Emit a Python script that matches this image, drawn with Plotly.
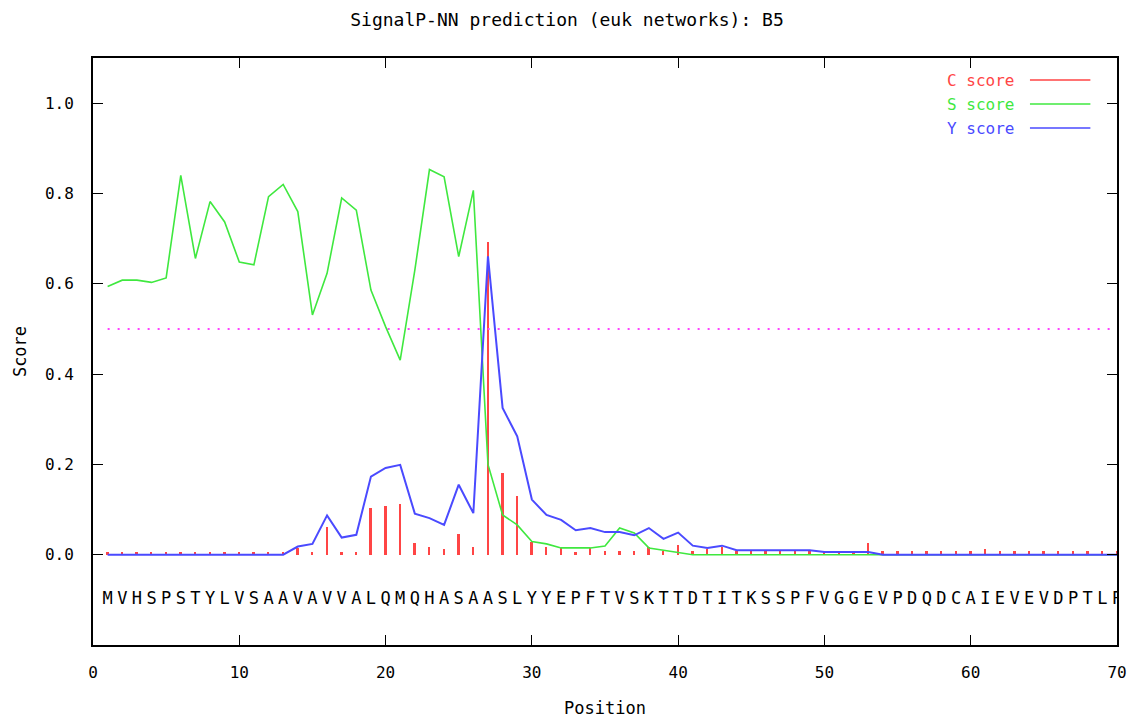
import plotly.graph_objects as go

# Query sequence, one residue per position
sequence = "MVHSPSTYLVSAAVAVVALQMQHASAASLYYEPFTVSKTTDTITKSSPFVGGEVPDQDCAIEVEVDPTLP"
residues = list(sequence)
positions = list(range(1, len(residues) + 1))

# Raw cleavage-site score (C), signal-peptide score (S), combined score (Y)
c_score = [
    0.007, 0.007, 0.007, 0.007, 0.007, 0.007, 0.007, 0.007, 0.007, 0.007,
    0.007, 0.007, 0.007, 0.015, 0.007, 0.062, 0.007, 0.007, 0.103, 0.108,
    0.113, 0.026, 0.017, 0.013, 0.046, 0.017, 0.693, 0.181, 0.129, 0.029,
    0.017, 0.015, 0.007, 0.015, 0.008, 0.008, 0.008, 0.016, 0.009, 0.021,
    0.008, 0.013, 0.018, 0.008, 0.008, 0.008, 0.008, 0.008, 0.008, 0.008,
    0.008, 0.008, 0.027, 0.008, 0.008, 0.008, 0.008, 0.008, 0.008, 0.008,
    0.013, 0.008, 0.008, 0.008, 0.008, 0.008, 0.008, 0.008, 0.008, 0.008,
]
s_score = [
    0.594, 0.608, 0.608, 0.603, 0.613, 0.840, 0.656, 0.782, 0.737, 0.648,
    0.642, 0.793, 0.820, 0.760, 0.531, 0.623, 0.790, 0.763, 0.586, 0.505,
    0.431, 0.630, 0.853, 0.837, 0.660, 0.807, 0.200, 0.088, 0.066, 0.029,
    0.024, 0.015, 0.015, 0.015, 0.019, 0.059, 0.048, 0.015, 0.010, 0.005,
    0.000, 0.000, 0.000, 0.000, 0.000, 0.000, 0.000, 0.000, 0.000, 0.000,
    0.000, 0.000, 0.000, 0.000, 0.000, 0.000, 0.000, 0.000, 0.000, 0.000,
    0.000, 0.000, 0.000, 0.000, 0.000, 0.000, 0.000, 0.000, 0.000, 0.000,
]
y_score = [
    0.000, 0.000, 0.000, 0.000, 0.000, 0.000, 0.000, 0.000, 0.000, 0.000,
    0.000, 0.000, 0.000, 0.018, 0.024, 0.087, 0.038, 0.044, 0.173, 0.192,
    0.199, 0.091, 0.081, 0.066, 0.155, 0.092, 0.661, 0.325, 0.262, 0.122,
    0.088, 0.077, 0.054, 0.059, 0.050, 0.050, 0.043, 0.059, 0.035, 0.049,
    0.020, 0.015, 0.020, 0.010, 0.010, 0.010, 0.010, 0.010, 0.010, 0.006,
    0.006, 0.006, 0.006, 0.000, 0.000, 0.000, 0.000, 0.000, 0.000, 0.000,
    0.000, 0.000, 0.000, 0.000, 0.000, 0.000, 0.000, 0.000, 0.000, 0.000,
]
cutoff = 0.5
sequence_row = -0.1

x_ticks = [0, 10, 20, 30, 40, 50, 60, 70]
y_ticks = [0.0, 0.2, 0.4, 0.6, 0.8, 1.0]
y_tick_labels = ["0.0", "0.2", "0.4", "0.6", "0.8", "1.0"]

series_names = ["C score", "S score", "Y score"]
series_colors = ["#ff4545", "#3fe83f", "#4a4aff"]

MONO = "DejaVu Sans Mono, Liberation Mono, monospace"

fig = go.Figure()

# C score as thin vertical bars
fig.add_trace(go.Bar(
    x=positions, y=c_score, width=0.13,
    marker=dict(color=series_colors[0], line=dict(width=0)),
    name=series_names[0], showlegend=False,
))

# Cutoff level
fig.add_trace(go.Scatter(
    x=[positions[0], positions[-1]], y=[cutoff, cutoff], mode="lines",
    line=dict(color="#ff40ff", width=2, dash="2px,8px"),
    showlegend=False, hoverinfo="skip",
))

fig.add_trace(go.Scatter(
    x=positions, y=s_score, mode="lines",
    line=dict(color=series_colors[1], width=1.6),
    name=series_names[1], showlegend=False,
))
fig.add_trace(go.Scatter(
    x=positions, y=y_score, mode="lines",
    line=dict(color=series_colors[2], width=2),
    name=series_names[2], showlegend=False,
))

# Residue letters under the curves
fig.add_trace(go.Scatter(
    x=positions, y=[sequence_row] * len(residues), mode="text",
    text=residues, textposition="middle center",
    textfont=dict(family=MONO, size=17, color="black"),
    showlegend=False, hoverinfo="skip",
))

# Key in the upper right: label followed by a line sample
key_rows = [0.9625, 0.9216, 0.8807]
for name, color, yk in zip(series_names, series_colors, key_rows):
    fig.add_annotation(
        xref="paper", yref="paper", x=0.901, y=yk, xanchor="right", yanchor="middle",
        text=name, showarrow=False, font=dict(family=MONO, size=16, color=color),
    )
    fig.add_shape(
        type="line", xref="paper", yref="paper", x0=0.915, x1=0.974, y0=yk, y1=yk,
        line=dict(color=color, width=1.6),
    )

axis_common = dict(
    showgrid=False, zeroline=False, showline=True, linecolor="black", linewidth=2,
    mirror="ticks", ticks="inside", ticklen=10, tickwidth=1, tickcolor="black",
    tickfont=dict(family=MONO, size=16, color="black"), automargin=False,
)

fig.update_layout(
    width=1134, height=718,
    margin=dict(l=93, r=17, t=58, b=73),
    paper_bgcolor="white", plot_bgcolor="white",
    title=dict(
        text="SignalP-NN prediction (euk networks): B5",
        x=0.5, xref="container", xanchor="center",
        y=1 - 20 / 718, yref="container", yanchor="middle",
        font=dict(family=MONO, size=18, color="black"),
    ),
    xaxis=dict(
        range=[0, 70], tickvals=x_ticks, ticklabelstandoff=12,
        title=dict(text="Position", standoff=22, font=dict(family=MONO, size=17, color="black")),
        **axis_common,
    ),
    yaxis=dict(
        range=[-0.2, 1.1], tickvals=y_ticks, ticktext=y_tick_labels, ticklabelstandoff=14,
        title=dict(text="Score", standoff=14, font=dict(family=MONO, size=17, color="black")),
        **axis_common,
    ),
    bargap=0,
)

fig.write_html("out.html")
